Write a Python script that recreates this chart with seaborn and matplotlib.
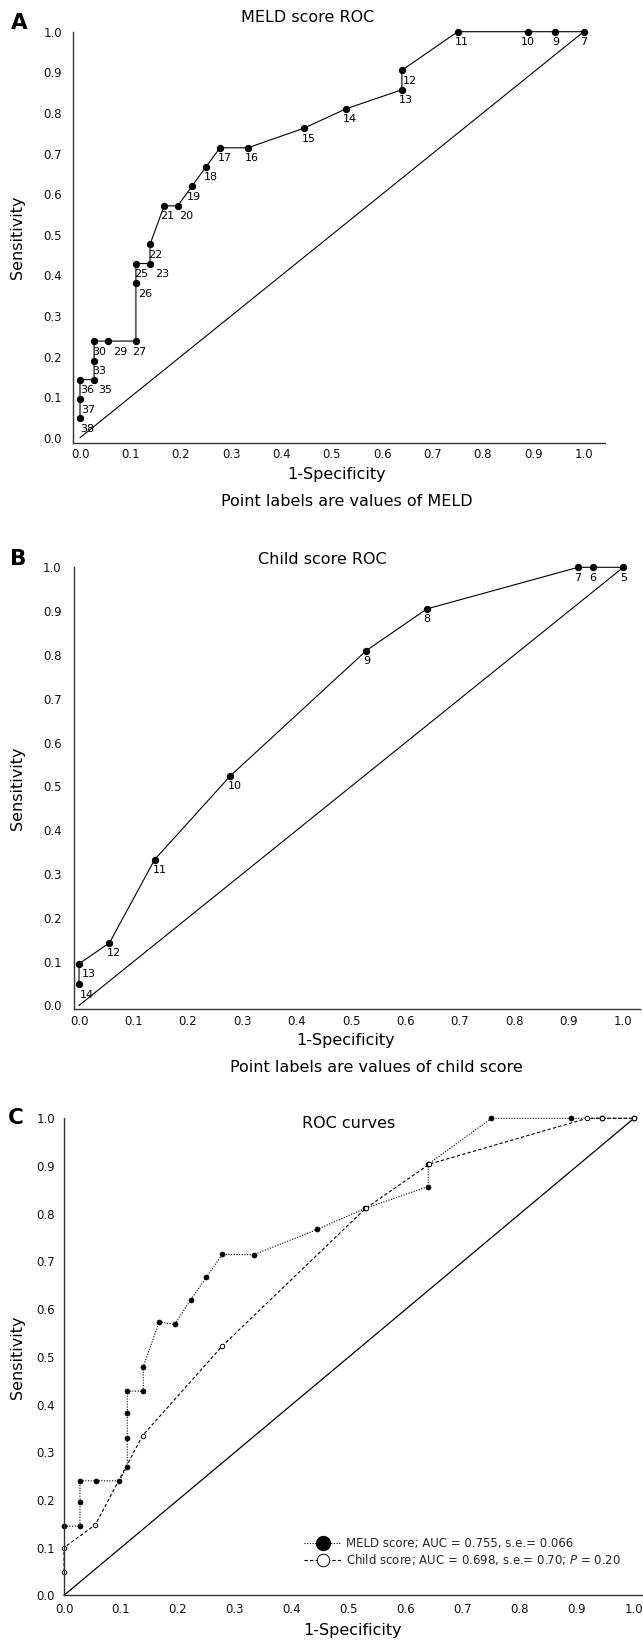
import numpy as np
import matplotlib
matplotlib.use("Agg")
import matplotlib.pyplot as plt
import seaborn as sns
from matplotlib.lines import Line2D

# MELD score ROC (panel A): 1-specificity, sensitivity, cut-off labels
meld_fpr = [0.0, 0.0, 0.0, 0.028, 0.028, 0.028, 0.056, 0.111, 0.111, 0.111, 0.139, 0.139, 0.167,
            0.194, 0.222, 0.250, 0.278, 0.333, 0.444, 0.528, 0.639, 0.639, 0.750, 0.889, 0.944, 1.0]
meld_tpr = [0.048, 0.095, 0.143, 0.143, 0.190, 0.238, 0.238, 0.238, 0.381, 0.429, 0.429, 0.476, 0.571,
            0.571, 0.619, 0.667, 0.714, 0.714, 0.762, 0.810, 0.857, 0.905, 1.0, 1.0, 1.0, 1.0]
meld_cut = [38, 37, 36, 35, 33, 30, 29, 27, 26, 25, 23, 22, 21,
            20, 19, 18, 17, 16, 15, 14, 13, 12, 11, 10, 9, 7]

# Child score ROC (panel B)
child_fpr = [0.0, 0.0, 0.056, 0.139, 0.278, 0.528, 0.639, 0.917, 0.944, 1.0]
child_tpr = [0.048, 0.095, 0.143, 0.333, 0.524, 0.810, 0.905, 1.0, 1.0, 1.0]
child_cut = [14, 13, 12, 11, 10, 9, 8, 7, 6, 5]

# combined ROC curves (panel C)
c_meld_fpr = [0.0, 0.028, 0.028, 0.028, 0.056, 0.097, 0.111, 0.111, 0.111, 0.111, 0.139, 0.139, 0.167,
              0.194, 0.222, 0.250, 0.278, 0.333, 0.444, 0.528, 0.639, 0.639, 0.750, 0.889, 0.944, 1.0]
c_meld_tpr = [0.145, 0.145, 0.195, 0.240, 0.240, 0.240, 0.270, 0.330, 0.383, 0.428, 0.428, 0.479, 0.573,
              0.568, 0.619, 0.667, 0.715, 0.714, 0.767, 0.811, 0.857, 0.904, 1.0, 1.0, 1.0, 1.0]
c_child_fpr = [0.0, 0.0, 0.055, 0.138, 0.278, 0.529, 0.641, 0.918, 0.944, 1.0]
c_child_tpr = [0.049, 0.100, 0.148, 0.335, 0.523, 0.811, 0.904, 1.0, 1.0, 1.0]

legend_labels = ["MELD score; AUC = 0.755, s.e.= 0.066",
                 "Child score; AUC = 0.698, s.e.= 0.70; $\\it{P}$ = 0.20"]

# label nudges (pixels) where labels are crowded
meld_dx = {35: 11, 29: 12, 23: 12, 27: 3, 21: 3, 19: 2, 10: 0, 20: 8, 12: 8, 13: 3.5,
           16: 4, 11: 4, 14: 4, 37: 8, 36: 7, 38: 7, 26: 9}

W, H = 643, 1645
sns.set_theme(style="white")
plt.rcParams["font.family"] = ["DejaVu Sans"]
plt.rcParams["mathtext.fontset"] = "dejavusans"


def box(l, t, r, b):
    return [l / W, 1 - b / H, (r - l) / W, (b - t) / H]


def ftext(x, y, s, **kw):
    fig.text(x / W, 1 - y / H, s, ha="center", va="center", color="black", **kw)


def style_axes(ax, xlim, ylim, xpad, ypad):
    ax.set_xlim(*xlim)
    ax.set_ylim(*ylim)
    ticks = np.round(np.arange(0, 1.01, 0.1), 1)
    ax.set_xticks(ticks)
    ax.set_yticks(ticks)
    ax.set_xticklabels([f"{t:.1f}" for t in ticks])
    ax.set_yticklabels([f"{t:.1f}" for t in ticks])
    sns.despine(ax=ax)
    for s in ["left", "bottom"]:
        ax.spines[s].set_color("#333333")
        ax.spines[s].set_linewidth(1.0)
    ax.tick_params(direction="in", length=5, width=0.9, color="#333333",
                   labelsize=8.5, labelcolor="#111111")
    ax.tick_params(axis="x", pad=xpad)
    ax.tick_params(axis="y", pad=ypad)
    ax.set_xlabel("")
    ax.set_ylabel("")
    ax.patch.set_alpha(0)


def label_points(ax, xs, ys, labs, nudges):
    for x, y, lab in zip(xs, ys, labs):
        dx = nudges.get(lab, 5 if lab >= 10 else 0)
        ax.annotate(str(lab), (x, y), xytext=(dx, -10.5), textcoords="offset pixels",
                    ha="center", va="center", fontsize=8, color="black")


fig = plt.figure(figsize=(W / 100, H / 100), dpi=100)

# ---- panel A
axA = fig.add_axes(box(73, 31.7, 605, 442.7))
sns.lineplot(x=[0, 1], y=[0, 1], ax=axA, color="black", lw=0.8, clip_on=False)
sns.lineplot(x=meld_fpr, y=meld_tpr, sort=False, estimator=None, ax=axA, color="black", lw=0.8,
             marker="o", markersize=4.5, markeredgecolor="black", clip_on=False)
style_axes(axA, (-0.0139, 1.0423), (-0.0123, 1.0), 4, 8)
label_points(axA, meld_fpr, meld_tpr, meld_cut, meld_dx)
ftext(19, 23, "A", fontsize=15.5, fontweight="bold")
ftext(308, 17, "MELD score ROC", fontsize=11.5)
ftext(336.5, 475, "1-Specificity", fontsize=11.5)
ftext(346.5, 501.7, "Point labels are values of MELD", fontsize=11.5)
ftext(18, 237, "Sensitivity", fontsize=11.5, rotation=90)

# ---- panel B
axB = fig.add_axes(box(74, 567.3, 640, 1009.3))
sns.lineplot(x=[0, 1], y=[0, 1], ax=axB, color="black", lw=0.8, clip_on=False)
sns.lineplot(x=child_fpr, y=child_tpr, sort=False, estimator=None, ax=axB, color="black", lw=0.8,
             marker="o", markersize=4.5, markeredgecolor="black", clip_on=False)
style_axes(axB, (-0.0092, 1.0307), (-0.0087, 1.0), 4, 8.8)
label_points(axB, child_fpr, child_tpr, child_cut, {14: 8, 13: 9.5, 12: 4})
ftext(18, 559, "B", fontsize=15.5, fontweight="bold")
ftext(322.5, 559, "Child score ROC", fontsize=11.5)
ftext(345.5, 1041, "1-Specificity", fontsize=11.5)
ftext(376, 1068, "Point labels are values of child score", fontsize=11.5)
ftext(18, 788, "Sensitivity", fontsize=11.5, rotation=90)

# ---- panel C
axC = fig.add_axes(box(64, 1118.3, 643, 1595.3))
sns.lineplot(x=[0, 1], y=[0, 1], ax=axC, color="black", lw=0.9, clip_on=False)
sns.lineplot(x=c_meld_fpr, y=c_meld_tpr, sort=False, estimator=None, ax=axC, color="black", lw=0.8,
             linestyle=(0, (1, 1.4)), marker="o", markersize=3.6, markeredgecolor="black",
             markeredgewidth=0.5, clip_on=False)
sns.lineplot(x=c_child_fpr, y=c_child_tpr, sort=False, estimator=None, ax=axC, color="black", lw=0.8,
             linestyle=(0, (3, 2)), marker="o", markersize=3.2, markerfacecolor="white",
             markeredgecolor="black", markeredgewidth=0.7, clip_on=False)
style_axes(axC, (0, 1.0158), (0, 1.0), 5.8, 6.5)
handles = [
    Line2D([], [], color="black", lw=0.8, linestyle=(0, (1, 1.4)), marker="o", markersize=10,
           markerfacecolor="black", markeredgecolor="black"),
    Line2D([], [], color="black", lw=0.8, linestyle=(0, (3, 2)), marker="o", markersize=9,
           markerfacecolor="white", markeredgecolor="black", markeredgewidth=0.7),
]
axC.legend(handles, legend_labels, loc="center left", bbox_to_anchor=(0.415, 0.091), frameon=False,
           fontsize=8.5, handlelength=3.1, handletextpad=0.4, labelspacing=0.2, borderpad=0,
           borderaxespad=0)
ftext(15.5, 1118, "C", fontsize=15.5, fontweight="bold")
ftext(349, 1123, "ROC curves", fontsize=11.5)
ftext(353, 1630, "1-Specificity", fontsize=11.5)
ftext(18, 1357, "Sensitivity", fontsize=11.5, rotation=90)

fig.savefig("out.png", dpi=100)
